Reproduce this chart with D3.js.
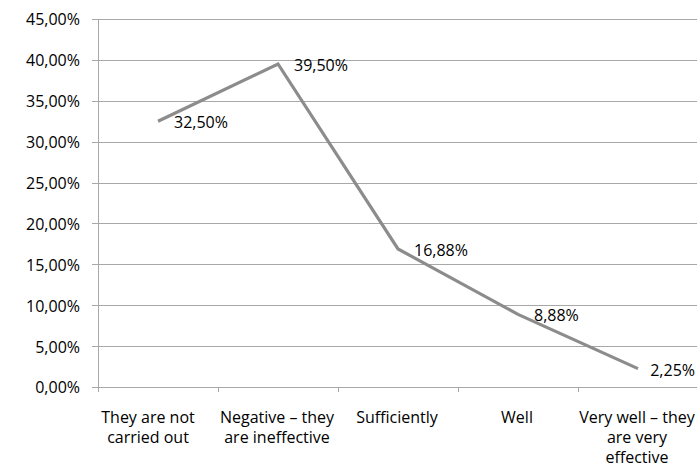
<!DOCTYPE html>
<html>
<head>
<meta charset="utf-8">
<script src="https://cdn.jsdelivr.net/npm/d3@7"></script>
<style>
  html, body { margin: 0; padding: 0; background: #fff; }
  svg text { font-family: "Open Sans", Lato, sans-serif; font-size: 16px; fill: #000; }
</style>
</head>
<body>
<svg id="chart" width="697" height="469"></svg>
<script>
// Survey answers and their shares (%)
const categories = [
  ["They are not", "carried out"],
  ["Negative \u2013 they", "are ineffective"],
  ["Sufficiently"],
  ["Well"],
  ["Very well \u2013 they", "are very", "effective"]
];
const values = [32.50, 39.50, 16.88, 8.88, 2.25];
const yTicks = [0, 5, 10, 15, 20, 25, 30, 35, 40, 45];

const fmt = v => v.toFixed(2).replace(".", ",") + "%";

const svg = d3.select("#chart");
const margin = { left: 98, right: -1, top: 19, bottom: 82 };
const W = 697, H = 469;

const x = d3.scaleBand()
  .domain(d3.range(categories.length))
  .range([margin.left, W - margin.right])
  .paddingInner(0).paddingOuter(0);

const y = d3.scaleLinear()
  .domain([0, 45])
  .range([H - margin.bottom, margin.top]);

const gridColor = "#a8a8a8";

// horizontal gridlines
svg.append("g")
  .selectAll("line")
  .data(yTicks)
  .join("line")
  .attr("x1", margin.left - 6)
  .attr("x2", W)
  .attr("y1", d => Math.round(y(d)) + 0.5)
  .attr("y2", d => Math.round(y(d)) + 0.5)
  .attr("stroke", gridColor)
  .attr("stroke-width", 1);

// y axis line
svg.append("line")
  .attr("x1", margin.left + 0.5).attr("x2", margin.left + 0.5)
  .attr("y1", Math.round(y(45)))
  .attr("y2", Math.round(y(0)) + 1)
  .attr("stroke", gridColor);

// y tick labels
svg.append("g")
  .selectAll("text")
  .data(yTicks)
  .join("text")
  .attr("x", margin.left - 18)
  .attr("y", d => y(d))
  .attr("dy", "0.4em")
  .attr("text-anchor", "end")
  .text(d => fmt(d));

// x category tick marks at band edges
const edges = d3.range(categories.length + 1).map(i =>
  i < categories.length ? x(i) : x(i - 1) + x.bandwidth());
svg.append("g")
  .selectAll("line")
  .data(edges)
  .join("line")
  .attr("x1", d => Math.round(d) + 0.5)
  .attr("x2", d => Math.round(d) + 0.5)
  .attr("y1", Math.round(y(0)))
  .attr("y2", Math.round(y(0)) + 5)
  .attr("stroke", gridColor);

// category labels (the first one sits a little left of its band centre)
const catG = svg.append("g")
  .selectAll("text")
  .data(categories)
  .join("text")
  .attr("text-anchor", "middle")
  .attr("x", (d, i) => x(i) + x.bandwidth() / 2 - (i === 0 ? 10 : 1))
  .attr("y", y(0) + 36);
catG.selectAll("tspan")
  .data(d => d)
  .join("tspan")
  .attr("x", function () { return d3.select(this.parentNode).attr("x"); })
  .attr("dy", (d, i) => i === 0 ? 0 : 20)
  .text(d => d);

// the line
const line = d3.line()
  .x((d, i) => x(i) + x.bandwidth() / 2)
  .y(d => y(d));

svg.append("path")
  .datum(values)
  .attr("d", line)
  .attr("fill", "none")
  .attr("stroke", "#8c8c8c")
  .attr("stroke-width", 3.2)
  .attr("stroke-linejoin", "miter");

// value labels to the right of each point, kept inside the canvas
svg.append("g")
  .selectAll("text")
  .data(values)
  .join("text")
  .attr("x", (d, i) => x(i) + x.bandwidth() / 2 + 16)
  .attr("y", d => y(d) + 0.5)
  .attr("dy", "0.4em")
  .text(d => fmt(d))
  .each(function () {
    const el = d3.select(this);
    const w = this.getComputedTextLength();
    const x0 = +el.attr("x");
    if (x0 + w > W - 2) el.attr("x", W - 2 - w);
  });
</script>
</body>
</html>
